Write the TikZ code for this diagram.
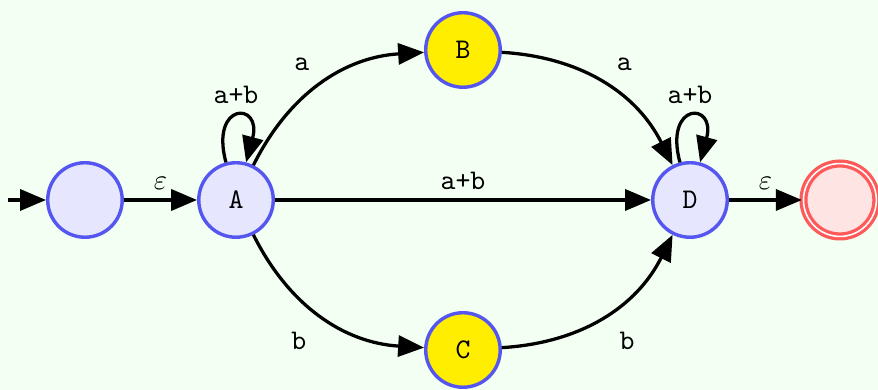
\documentclass[tikz,border=0pt]{standalone}
\usetikzlibrary{positioning,arrows.meta}
\definecolor{bgcol}{RGB}{242,255,242}
\definecolor{stfill}{RGB}{230,230,255}
\definecolor{stdraw}{RGB}{85,85,240}
\definecolor{hifill}{RGB}{255,238,0}
\definecolor{accdraw}{RGB}{255,90,90}
\definecolor{accfill}{RGB}{255,228,228}
\tikzset{
  st/.style  ={circle, draw=stdraw, fill=stfill, line width=1.2pt, minimum size=0.92cm, inner sep=0pt, font=\ttfamily},
  hi/.style  ={st, fill=hifill},
  acc/.style ={circle, draw=accdraw, double=white, double distance=0.55pt, line width=1.15pt, fill=accfill, minimum size=0.9cm, inner sep=0pt},
  e/.style   ={-{Triangle[length=3.2mm,width=2.6mm]}, draw=black, line width=1.15pt},
  el/.style  ={font=\ttfamily, inner sep=3pt},
}
\begin{document}
\begin{tikzpicture}
% background and frame
\fill[bgcol] (0,-2.346) rectangle (10.84,2.469);
\useasboundingbox (0,-2.346) rectangle (10.84,2.469);
% states
\node[st]  (q0) at (1.049,0) {};
\node[st]  (A)  at (2.914,0) {A};
\node[hi]  (B)  at (5.716,1.852) {B};
\node[hi]  (C)  at (5.716,-1.852) {C};
\node[st]  (D)  at (8.519,0) {D};
\node[acc] (F)  at (10.37,0) {};
\coordinate (start) at (0.1,0);
% transitions
\draw[e] (start) -- (q0);
\draw[e] (q0) -- (A) node[el, midway, above] {$\varepsilon$};
\draw[e] (A) to[loop above] node[el, above, inner sep=4pt] {a+b} (A);
\draw[e] (A) to[bend left=30] node[el, auto, pos=0.5, inner sep=4pt] {a} (B);
\draw[e] (B) to[bend left=30] node[el, auto, pos=0.5, inner sep=4pt] {a} (D);
\draw[e] (A) -- (D) node[el, midway, above] {a+b};
\draw[e] (A) to[bend right=30] node[el, auto, swap, pos=0.5, inner sep=5pt] {b} (C);
\draw[e] (C) to[bend right=30] node[el, auto, swap, pos=0.5, inner sep=5pt] {b} (D);
\draw[e] (D) to[loop above] node[el, above, inner sep=4pt] {a+b} (D);
\draw[e] (D) -- (F) node[el, midway, above] {$\varepsilon$};
\end{tikzpicture}
\end{document}
